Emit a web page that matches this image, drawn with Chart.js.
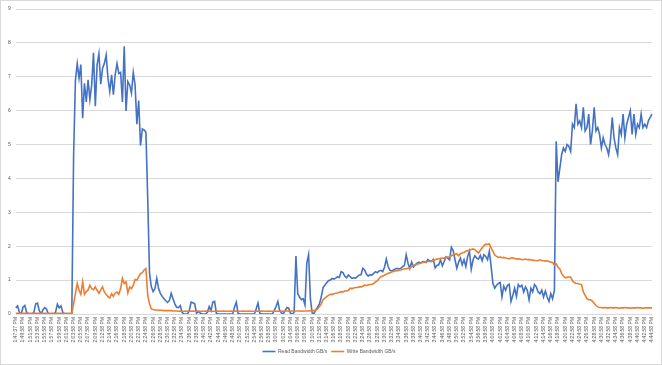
<!DOCTYPE html>
<html>
<head>
<meta charset="utf-8">
<script src="https://cdn.jsdelivr.net/npm/chart.js@4.4.0/dist/chart.umd.min.js"></script>
<style>
    html, body { margin: 0; padding: 0; background: #ffffff; }
    .chart-wrap {
        width: 662px;
        height: 365px;
        box-sizing: border-box;
        border: 1px solid #d9d9d9;
    }
</style>
</head>
<body>
<div class="chart-wrap"><canvas id="chart" width="660" height="363"></canvas></div>
<script>
// category labels shown on the time axis (one every 4 samples)
const timeLabels = [
    "1:47:37 PM", "1:49:58 PM", "1:51:58 PM", "1:53:58 PM", "1:55:58 PM", "1:57:58 PM",
    "1:59:58 PM", "2:01:58 PM", "2:03:58 PM", "2:05:58 PM", "2:07:58 PM", "2:09:58 PM",
    "2:12:58 PM", "2:14:58 PM", "2:16:58 PM", "2:18:58 PM", "2:20:58 PM", "2:22:58 PM",
    "2:24:58 PM", "2:26:58 PM", "2:28:58 PM", "2:30:58 PM", "2:32:58 PM", "2:34:58 PM",
    "2:36:58 PM", "2:38:58 PM", "2:40:58 PM", "2:42:58 PM", "2:44:58 PM", "2:46:58 PM",
    "2:48:58 PM", "2:50:58 PM", "2:52:58 PM", "2:54:58 PM", "2:56:58 PM", "2:58:58 PM",
    "3:00:58 PM", "3:02:58 PM", "3:04:58 PM", "3:06:58 PM", "3:08:58 PM", "3:10:58 PM",
    "3:12:58 PM", "3:14:58 PM", "3:16:58 PM", "3:18:58 PM", "3:20:58 PM", "3:22:58 PM",
    "3:24:58 PM", "3:26:58 PM", "3:28:58 PM", "3:30:58 PM", "3:32:58 PM", "3:34:58 PM",
    "3:36:58 PM", "3:38:58 PM", "3:40:58 PM", "3:42:58 PM", "3:44:58 PM", "3:46:58 PM",
    "3:48:58 PM", "3:50:58 PM", "3:52:58 PM", "3:54:58 PM", "3:56:58 PM", "3:58:58 PM",
    "4:00:58 PM", "4:02:58 PM", "4:04:58 PM", "4:06:58 PM", "4:08:58 PM", "4:10:58 PM",
    "4:12:58 PM", "4:14:58 PM", "4:16:58 PM", "4:18:58 PM", "4:20:58 PM", "4:22:58 PM",
    "4:24:58 PM", "4:26:58 PM", "4:28:58 PM", "4:30:58 PM", "4:32:58 PM", "4:34:58 PM",
    "4:36:58 PM", "4:38:58 PM", "4:40:58 PM", "4:42:58 PM", "4:44:58 PM"
];
const samplesPerLabel = 4;

const readBandwidth = [
    0.18, 0.24, 0.05, 0, 0.2, 0.25, 0.05, 0, 0, 0,
    0.05, 0.3, 0.32, 0.1, 0, 0.12, 0.19, 0.15, 0, 0,
    0, 0, 0.05, 0.29, 0.18, 0.24, 0.05, 0, 0, 0,
    0, 0.02, 4.7, 6.9, 7.39, 6.96, 7.36, 5.78, 6.81, 6.26,
    6.91, 6.33, 6.76, 7.71, 6.13, 7.35, 7.68, 6.78, 7.25, 7.39,
    7.64, 6.96, 6.57, 7.06, 6.47, 7.06, 7.39, 7.1, 7.13, 6.26,
    7.9, 5.99, 6.86, 6.76, 6.52, 7.13, 6.76, 5.6, 6.3, 4.97,
    5.46, 5.43, 5.36, 3.4, 1.2, 0.8, 0.66, 0.75, 1.05, 0.75,
    0.61, 0.52, 0.45, 0.39, 0.34, 0.4, 0.61, 0.45, 0.3, 0.2,
    0.19, 0.25, 0.05, 0, 0, 0, 0.1, 0.35, 0.33, 0.3,
    0.02, 0.08, 0.03, 0, 0, 0, 0.05, 0.22, 0.1, 0.35,
    0.37, 0.02, 0, 0, 0, 0, 0, 0, 0, 0,
    0, 0.2, 0.35, 0.02, 0, 0, 0, 0, 0, 0,
    0, 0, 0, 0.15, 0.32, 0.02, 0, 0, 0, 0,
    0, 0, 0, 0.1, 0.22, 0.37, 0.1, 0.03, 0, 0.1,
    0.19, 0.17, 0.02, 0, 0.05, 1.71, 0.6, 0.5, 0.42, 0.45,
    0.27, 1.5, 1.75, 0.45, 0.03, 0.02, 0.13, 0.2, 0.3, 0.5,
    0.78, 0.85, 0.92, 0.98, 1.0, 1.05, 1.03, 1.06, 1.1, 1.08,
    1.25, 1.22, 1.12, 1.07, 1.15, 1.1, 1.05, 1.07, 1.06, 1.1,
    1.15, 1.16, 1.35, 1.3, 1.18, 1.12, 1.16, 1.15, 1.2, 1.25,
    1.22, 1.27, 1.29, 1.25, 1.38, 1.62, 1.4, 1.29, 1.27, 1.3,
    1.33, 1.35, 1.33, 1.35, 1.4, 1.43, 1.75, 1.5, 1.34, 1.53,
    1.39, 1.45, 1.5, 1.53, 1.5, 1.54, 1.55, 1.52, 1.61, 1.57,
    1.55, 1.61, 1.36, 1.43, 1.45, 1.6, 1.42, 1.55, 1.69, 1.65,
    1.6, 1.97, 1.87, 1.6, 1.35, 1.53, 1.65, 1.45, 1.6, 1.4,
    1.7, 1.85, 1.32, 1.6, 1.72, 1.65, 1.62, 1.73, 1.57, 1.75,
    1.7, 1.6, 1.85, 1.4, 0.9, 0.76, 0.85, 0.9, 0.93, 0.51,
    0.82, 0.7, 0.85, 0.88, 0.37, 0.55, 0.76, 0.52, 0.87, 0.8,
    0.85, 0.65, 0.8, 0.7, 0.42, 0.76, 0.65, 0.87, 0.8, 0.65,
    0.6, 0.7, 0.5, 0.68, 0.5, 0.37, 0.6, 0.45, 0.7, 5.1,
    3.9, 4.3, 4.7, 4.9, 4.8, 5.0, 4.95, 4.8, 5.6, 5.5,
    6.2, 5.6, 5.7, 5.5, 6.1, 5.4, 5.5, 5.9, 5.0, 5.4,
    6.1, 5.4, 5.5, 5.3, 4.9, 5.2, 5.0, 4.9, 4.7, 5.1,
    5.8, 5.2, 4.9, 4.7, 5.5, 5.3, 5.9, 5.2, 5.6, 5.8,
    6.0, 5.3, 5.9, 5.3, 5.6, 5.5, 5.9, 5.5, 5.6, 5.5,
    5.7, 5.8, 5.9
];

const writeBandwidth = [
    0.02, 0.02, 0.02, 0.02, 0.02, 0.02, 0.02, 0.02, 0.02, 0.02,
    0.02, 0.02, 0.02, 0.02, 0.02, 0.02, 0.02, 0.02, 0.02, 0.02,
    0.02, 0.02, 0.02, 0.02, 0.02, 0.02, 0.02, 0.02, 0.02, 0.02,
    0.02, 0.02, 0.3, 0.61, 0.9, 0.7, 0.58, 0.95, 0.58, 0.66,
    0.71, 0.85, 0.75, 0.72, 0.8, 0.7, 0.61, 0.71, 0.8, 0.65,
    0.58, 0.51, 0.47, 0.6, 0.52, 0.62, 0.65, 0.58, 0.75, 1.05,
    0.9, 0.95, 0.62, 0.8, 0.75, 0.85, 1.02, 1.0, 1.1, 1.19,
    1.22, 1.3, 1.34, 0.55, 0.3, 0.15, 0.13, 0.12, 0.12, 0.11,
    0.11, 0.11, 0.1, 0.1, 0.1, 0.1, 0.1, 0.09, 0.09, 0.09,
    0.08, 0.09, 0.08, 0.08, 0.09, 0.08, 0.08, 0.08, 0.09, 0.08,
    0.08, 0.09, 0.08, 0.08, 0.08, 0.09, 0.08, 0.08, 0.09, 0.08,
    0.08, 0.08, 0.09, 0.08, 0.08, 0.09, 0.08, 0.08, 0.08, 0.09,
    0.08, 0.08, 0.09, 0.08, 0.08, 0.08, 0.09, 0.08, 0.08, 0.09,
    0.08, 0.08, 0.08, 0.09, 0.08, 0.08, 0.09, 0.08, 0.08, 0.08,
    0.09, 0.08, 0.08, 0.09, 0.08, 0.08, 0.08, 0.09, 0.08, 0.09,
    0.09, 0.08, 0.09, 0.09, 0.08, 0.09, 0.09, 0.09, 0.08, 0.09,
    0.09, 0.09, 0.09, 0.1, 0.1, 0.1, 0.12, 0.15, 0.22, 0.3,
    0.42, 0.47, 0.51, 0.55, 0.58, 0.58, 0.6, 0.61, 0.62, 0.64,
    0.66, 0.65, 0.68, 0.68, 0.7, 0.76, 0.75, 0.77, 0.78, 0.78,
    0.8, 0.8, 0.82, 0.85, 0.84, 0.86, 0.87, 0.88, 0.9, 0.95,
    0.98, 1.05, 1.1, 1.12, 1.15, 1.17, 1.2, 1.22, 1.24, 1.26,
    1.27, 1.28, 1.29, 1.3, 1.32, 1.33, 1.34, 1.35, 1.36, 1.4,
    1.43, 1.45, 1.47, 1.48, 1.5, 1.52, 1.53, 1.54, 1.55, 1.55,
    1.56, 1.58, 1.6, 1.62, 1.63, 1.63, 1.65, 1.65, 1.67, 1.68,
    1.68, 1.72, 1.75, 1.76, 1.78, 1.72, 1.78, 1.8, 1.82, 1.85,
    1.87, 1.88, 1.9, 1.92, 1.9, 1.85, 1.8, 1.88, 1.95, 2.02,
    2.06, 2.05, 2.07, 1.95, 1.85, 1.74, 1.7, 1.67, 1.68, 1.66,
    1.67, 1.65, 1.64, 1.63, 1.65, 1.66, 1.64, 1.62, 1.63, 1.62,
    1.6, 1.61, 1.62, 1.6, 1.61, 1.6, 1.59, 1.58, 1.57, 1.58,
    1.6, 1.58, 1.57, 1.56, 1.57, 1.55, 1.53, 1.52, 1.45, 1.48,
    1.38, 1.33, 1.2, 1.12, 1.07, 1.08, 1.09, 1.09, 0.98, 0.93,
    0.9, 0.9, 0.88, 0.87, 0.65, 0.55, 0.45, 0.42, 0.42, 0.38,
    0.32, 0.25, 0.21, 0.19, 0.19, 0.18, 0.19, 0.18, 0.18, 0.19,
    0.18, 0.18, 0.19, 0.18, 0.17, 0.18, 0.18, 0.19, 0.18, 0.18,
    0.17, 0.18, 0.18, 0.18, 0.19, 0.18, 0.18, 0.17, 0.18, 0.18,
    0.18, 0.18, 0.18
];

const axisFont = "'Liberation Sans', Arial, sans-serif";
const textGrey = "#595959";

// one category per sample, only every 4th one carries a time label
const sampleLabels = readBandwidth.map((_, i) =>
    i % samplesPerLabel === 0 ? timeLabels[i / samplesPerLabel] || "" : ""
);

new Chart(document.getElementById("chart"), {
    type: "line",
    data: {
        labels: sampleLabels,
        datasets: [
            {
                label: "Read Bandwidth GB/s",
                data: readBandwidth,
                borderColor: "#4472C4",
                backgroundColor: "#4472C4",
                borderWidth: 1.6,
                pointRadius: 0,
                tension: 0,
                order: 1,
            },
            {
                label: "Write Bandwidth GB/s",
                data: writeBandwidth,
                borderColor: "#ED7D31",
                backgroundColor: "#ED7D31",
                borderWidth: 1.6,
                pointRadius: 0,
                tension: 0,
                order: 0,
            },
        ],
    },
    options: {
        responsive: false,
        animation: false,
        devicePixelRatio: 1,
        layout: { padding: { left: 2, right: 6, top: 4, bottom: 0 } },
        scales: {
            x: {
                grid: { display: false, drawTicks: false },
                border: { display: false },
                afterFit: (scale) => {
                    scale.height = 31;
                },
                ticks: {
                    autoSkip: false,
                    minRotation: 90,
                    maxRotation: 90,
                    padding: 3,
                    color: textGrey,
                    font: { family: axisFont, size: 5 },
                },
            },
            y: {
                min: 0,
                max: 9,
                border: { display: false },
                grid: { color: "#d9d9d9", drawTicks: false },
                ticks: {
                    stepSize: 1,
                    padding: 5,
                    color: textGrey,
                    font: { family: axisFont, size: 5 },
                },
            },
        },
        plugins: {
            tooltip: { enabled: false },
            legend: {
                position: "bottom",
                labels: {
                    usePointStyle: true,
                    pointStyle: "line",
                    pointStyleWidth: 13,
                    boxHeight: 5,
                    padding: 4,
                    color: textGrey,
                    font: { family: axisFont, size: 5 },
                    sort: (a, b) => a.datasetIndex - b.datasetIndex,
                },
            },
        },
    },
});
</script>
</body>
</html>
